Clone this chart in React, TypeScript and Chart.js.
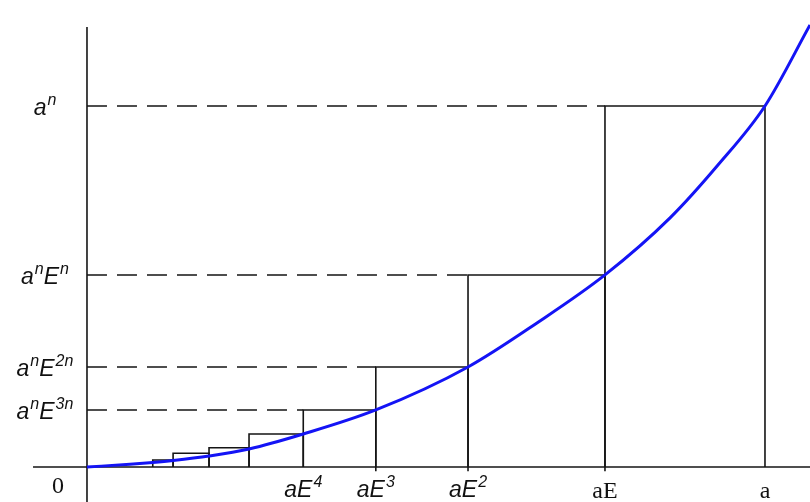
import React, { useEffect, useRef } from "react";
import { Chart, registerables } from "chart.js";

Chart.register(...registerables);

// Geometric partition a, aE, aE^2, ... (a = 1)
const partitionX = [1, 0.764, 0.562, 0.426, 0.319, 0.239, 0.18, 0.127, 0.097];
// Rectangle heights over [aE^(k+1), aE^k]  (a^n = 1)
const rectTops = [1, 0.532, 0.277, 0.158, 0.0914, 0.0535, 0.038, 0.0194];
// Sampled curve y = x^n
const curveX = [0, 0.0634, 0.097, 0.127, 0.18, 0.239, 0.319, 0.426, 0.562, 0.6637, 0.764, 0.86, 0.93, 1.0, 1.0664];
const curveY = [0, 0.0075, 0.0125, 0.018, 0.0305, 0.0499, 0.0914, 0.158, 0.277, 0.399, 0.532, 0.69, 0.835, 1.0, 1.2244];
// Dashed guide levels and their labels
const yTickValues = [1, 0.532, 0.277, 0.158];
const yTickLabels = ["a^{n}", "a^{n}E^{n}", "a^{n}E^{2n}", "a^{n}E^{3n}"];
// x labels
const xSansValues = [0.319, 0.426, 0.562];
const xSansLabels = ["aE^{4}", "aE^{3}", "aE^{2}"];
const xSerifValues = [0.764, 1];
const xSerifLabels = ["aE", "a"];
const originLabel = "0";
// axis extents
const xAxisExtent = [-0.0796, 1.0664];
const yAxisExtent = [-0.097, 1.219];

type Seg = { t: string; sup: boolean };
function parseRich(s: string): Seg[] {
  const out: Seg[] = [];
  const re = /\^\{([^}]*)\}|([^^]+)/g;
  let m: RegExpExecArray | null;
  while ((m = re.exec(s))) {
    if (m[1] !== undefined) out.push({ t: m[1], sup: true });
    else out.push({ t: m[2], sup: false });
  }
  return out;
}

function drawRich(
  ctx: CanvasRenderingContext2D,
  s: string,
  cx: number,
  baseline: number,
  mainFont: string,
  supFont: string,
  raise: number
) {
  const segs = parseRich(s);
  let total = 0;
  const widths = segs.map((g) => {
    ctx.font = g.sup ? supFont : mainFont;
    const w = ctx.measureText(g.t).width + (g.sup ? 1 : 0);
    total += w;
    return w;
  });
  let x = cx - total / 2;
  segs.forEach((g, i) => {
    ctx.font = g.sup ? supFont : mainFont;
    ctx.fillText(g.t, x + (g.sup ? 1 : 0), g.sup ? baseline - raise : baseline);
    x += widths[i];
  });
}

const SANS_MAIN = "italic 23px 'Liberation Sans', Arial, sans-serif";
const SANS_SUP = "italic 16px 'Liberation Sans', Arial, sans-serif";
const SERIF = "24px 'Liberation Serif', 'Times New Roman', serif";

const labelPlugin = {
  id: "fermatLabels",
  afterDatasetsDraw(chart: any) {
    const ctx: CanvasRenderingContext2D = chart.ctx;
    const xs = chart.scales.x;
    const ys = chart.scales.y;
    const x0 = xs.getPixelForValue(0);
    const y0 = ys.getPixelForValue(0);
    ctx.save();
    ctx.fillStyle = "#111";
    ctx.textBaseline = "alphabetic";
    ctx.textAlign = "left";
    yTickValues.forEach((v, i) => {
      const py = ys.getPixelForValue(v);
      drawRich(ctx, yTickLabels[i], x0 - 42, py + 9, SANS_MAIN, SANS_SUP, 10);
    });
    xSansValues.forEach((v, i) => {
      const px = xs.getPixelForValue(v);
      drawRich(ctx, xSansLabels[i], px, y0 + 30, SANS_MAIN, SANS_SUP, 10);
    });
    ctx.font = SERIF;
    ctx.textAlign = "center";
    xSerifValues.forEach((v, i) => {
      const px = xs.getPixelForValue(v);
      ctx.fillText(xSerifLabels[i], px, y0 + 31);
    });
    ctx.fillText(originLabel, x0 - 29, y0 + 26);
    ctx.restore();
  },
};

export default function App() {
  const ref = useRef<HTMLCanvasElement | null>(null);
  useEffect(() => {
    if (!ref.current) return;
    const black = "#151515";
    const datasets: any[] = [];
    datasets.push({
      data: curveX.map((x, i) => ({ x, y: curveY[i] })),
      borderColor: "#1414f5",
      borderWidth: 3,
      cubicInterpolationMode: "monotone",
      order: 0,
    });
    rectTops.forEach((top, i) => {
      const l = partitionX[i + 1];
      const r = partitionX[i];
      datasets.push({
        data: [
          { x: l, y: 0 },
          { x: l, y: top },
          { x: r, y: top },
          { x: r, y: 0 },
        ],
        borderColor: black,
        borderWidth: 1.6,
        order: 2,
      });
    });
    yTickValues.forEach((v, i) => {
      datasets.push({
        data: [
          { x: 0, y: v },
          { x: partitionX[i + 1], y: v },
        ],
        borderColor: black,
        borderWidth: 1.6,
        borderDash: [20, 10],
        order: 3,
      });
    });
    [partitionX[1], partitionX[2], partitionX[3]].forEach((v) => {
      datasets.push({
        data: [
          { x: v, y: 0 },
          { x: v, y: -0.012 },
        ],
        borderColor: black,
        borderWidth: 1.6,
        order: 2,
      });
    });
    datasets.push({
      data: [
        { x: xAxisExtent[0], y: 0 },
        { x: xAxisExtent[1], y: 0 },
      ],
      borderColor: black,
      borderWidth: 1.6,
      order: 1,
    });
    datasets.push({
      data: [
        { x: 0, y: yAxisExtent[0] },
        { x: 0, y: yAxisExtent[1] },
      ],
      borderColor: black,
      borderWidth: 1.6,
      order: 1,
    });
    datasets.forEach((d) => {
      d.showLine = true;
      d.pointRadius = 0;
      d.pointHoverRadius = 0;
      d.fill = false;
      d.clip = false;
    });
    const chart = new Chart(ref.current, {
      type: "scatter",
      data: { datasets },
      options: {
        responsive: false,
        animation: false,
        events: [],
        layout: { padding: 0 },
        plugins: { legend: { display: false }, tooltip: { enabled: false } },
        scales: {
          x: { type: "linear", min: -0.1283, max: 1.0664, display: false },
          y: { type: "linear", min: -0.09695, max: 1.2936, display: false },
        },
      },
      plugins: [labelPlugin],
    });
    return () => chart.destroy();
  }, []);
  return (
    <div style={{ position: "absolute", left: 0, top: 0, width: 810, height: 502, background: "#fff" }}>
      <canvas ref={ref} width={810} height={502} style={{ display: "block" }} />
    </div>
  );
}
